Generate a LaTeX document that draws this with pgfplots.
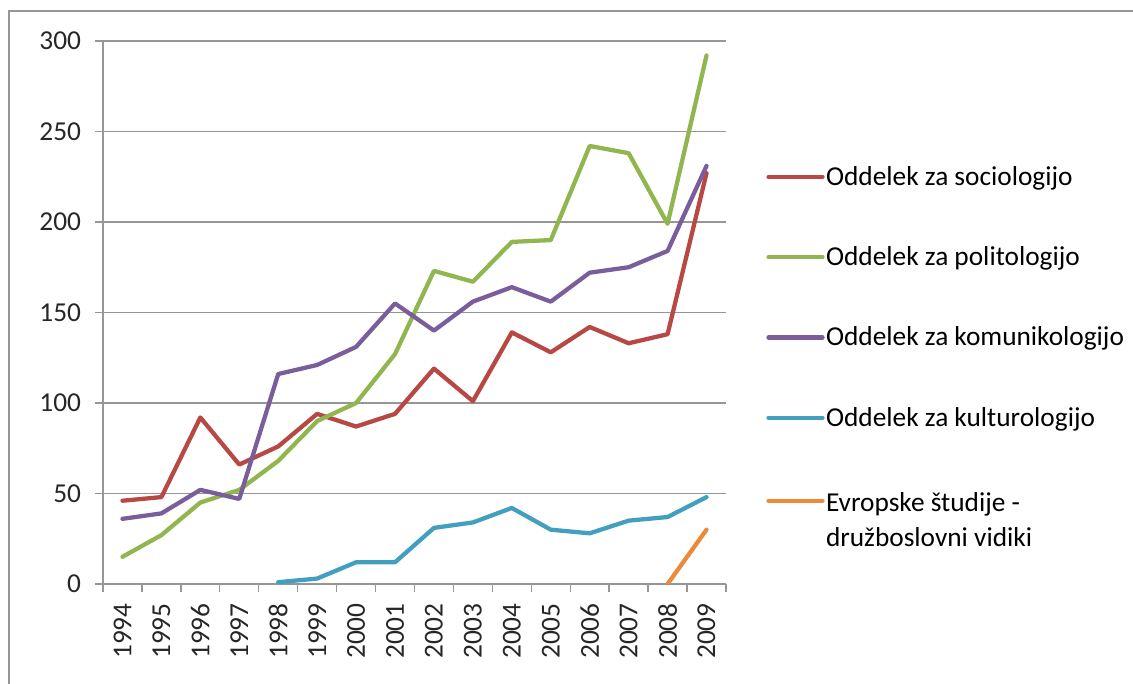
\documentclass[border=0pt]{standalone}
\usepackage{fontspec}
\setmainfont{Carlito}
\usepackage{pgfplots}
\pgfplotsset{compat=1.18}
\definecolor{cRed}{RGB}{184,72,68}
\definecolor{cGreen}{RGB}{145,182,80}
\definecolor{cPurple}{RGB}{122,94,156}
\definecolor{cTeal}{RGB}{66,160,190}
\definecolor{cOrange}{RGB}{236,137,58}
\definecolor{cGrid}{RGB}{150,150,150}
\begin{document}
\begin{tikzpicture}
\path[use as bounding box] (0,0) rectangle (849.75pt,513pt);
\draw[cGrid, line width=1.6pt] (6.75pt,-5pt) -- (6.75pt,504.75pt) -- (855pt,504.75pt);
\begin{axis}[
  at={(77.25pt,75pt)}, anchor=south west,
  scale only axis, width=467.25pt, height=407.25pt,
  xmin=1993.5, xmax=2009.5, ymin=0, ymax=300,
  xtick={1993.5,1994.5,...,2009.5},
  x tick label as interval,
  xticklabels={1994,1995,1996,1997,1998,1999,2000,2001,2002,2003,2004,2005,2006,2007,2008,2009},
  ytick={0,50,...,300},
  ymajorgrids, grid style={cGrid, line width=1pt},
  axis x line*=bottom, axis y line*=left,
  axis line style={cGrid, line width=1pt},
  tick style={cGrid, line width=1pt},
  major tick length=6pt, tick align=outside,
  ticklabel style={font=\fontsize{20.5}{24}\selectfont, text=black!85},
  xticklabel style={rotate=90, anchor=east, xshift=-5pt},
  yticklabel style={xshift=-7pt},
  /pgf/number format/assume math mode=true,
  /pgf/number format/1000 sep={},
  legend cell align=left,
  legend style={at={(1.058,0.777)}, anchor=north west, draw=none, fill=none,
    font=\fontsize{20.5}{26}\selectfont, row sep=42.5pt,
    nodes={inner sep=1pt}},
  legend image code/.code={\draw[#1] (0pt,0pt) -- (40.5pt,0pt);},
  every axis plot/.append style={line width=3.2pt, line join=round, line cap=round},
]
\addplot[cRed] coordinates {(1994,46) (1995,48) (1996,92) (1997,66) (1998,76) (1999,94) (2000,87) (2001,94) (2002,119) (2003,101) (2004,139) (2005,128) (2006,142) (2007,133) (2008,138) (2009,227)};
\addlegendentry{Oddelek za sociologijo}
\addplot[cGreen] coordinates {(1994,15) (1995,27) (1996,45) (1997,52) (1998,68) (1999,90) (2000,100) (2001,127) (2002,173) (2003,167) (2004,189) (2005,190) (2006,242) (2007,238) (2008,199) (2009,292)};
\addlegendentry{Oddelek za politologijo}
\addplot[cPurple] coordinates {(1994,36) (1995,39) (1996,52) (1997,47) (1998,116) (1999,121) (2000,131) (2001,155) (2002,140) (2003,156) (2004,164) (2005,156) (2006,172) (2007,175) (2008,184) (2009,231)};
\addlegendentry{Oddelek za komunikologijo}
\addplot[cTeal] coordinates {(1998,1) (1999,3) (2000,12) (2001,12) (2002,31) (2003,34) (2004,42) (2005,30) (2006,28) (2007,35) (2008,37) (2009,48)};
\addlegendentry{Oddelek za kulturologijo}
\addplot[cOrange] coordinates {(2008,0) (2009,30)};
\addlegendentry{\begin{tabular}[t]{@{}l@{}}Evropske študije -\\družboslovni vidiki\end{tabular}}
\end{axis}
\end{tikzpicture}
\end{document}
